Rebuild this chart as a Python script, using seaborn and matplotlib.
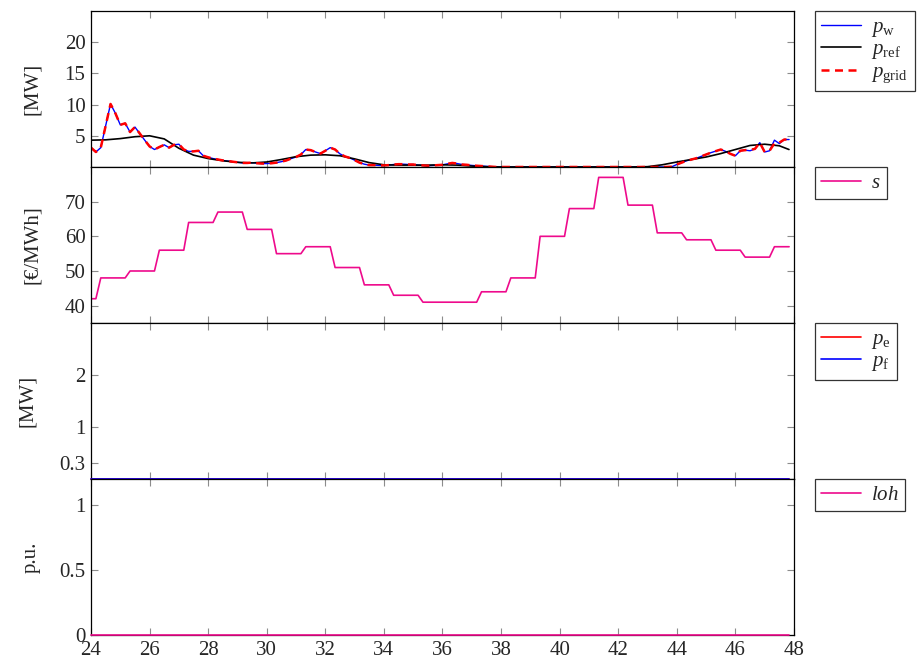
import numpy as np
import pandas as pd
import matplotlib
matplotlib.use('Agg')
import matplotlib.pyplot as plt
import seaborn as sns

# time grid: 10 minute samples from hour 24 to 47:50
t = 24 + np.arange(144) / 6

# wind power p_w [MW] on the 10 min grid
pw = [3.1, 2.4, 3.1, 6.6, 10.1, 8.6, 6.75, 7.0, 5.6, 6.4, 5.35, 4.3,
      3.3, 2.8, 3.2, 3.55, 3.1, 3.55, 3.65, 2.8, 2.5, 2.5, 2.6, 1.8,
      1.55, 1.35, 1.2, 1.05, 0.95, 0.85, 0.75, 0.65, 0.65, 0.7, 0.6, 0.55,
      0.55, 0.6, 0.7, 0.85, 1.05, 1.35, 1.6, 2.0, 2.8, 2.7, 2.4, 2.15,
      2.6, 3.1, 2.8, 2.1, 1.7, 1.45, 1.1, 0.7, 0.45, 0.3, 0.3, 0.25,
      0.25, 0.3, 0.4, 0.45, 0.45, 0.4, 0.4, 0.3, 0.25, 0.2, 0.25, 0.3,
      0.35, 0.5, 0.65, 0.55, 0.4, 0.35, 0.25, 0.2, 0.15, 0.1, 0.05] \
    + [0.0] * 36 \
    + [0.05, 0.4, 0.7, 1.0, 1.2, 1.4, 1.7, 2.0, 2.3, 2.55, 2.8, 2.5,
       2.1, 1.8, 2.6, 2.7, 2.6, 2.9, 3.9, 2.4, 2.6, 4.3, 3.75, 4.4, 4.4]

# grid power follows the wind power, small deviations at the end of the day
pgrid = list(pw)
pgrid[135] = 2.75
pgrid[140] = 3.8
pgrid[141] = 3.9

# reference power p_ref [MW], half hour knots
t_ref = [24.0, 24.5, 25.0, 25.5, 26.0, 26.5, 27.0, 27.5, 28.0, 28.5, 29.0, 29.5,
         30.0, 30.5, 31.0, 31.5, 32.0, 32.5, 33.0, 33.5, 34.0, 34.5, 35.0, 35.5,
         36.0, 36.5, 37.0, 37.5, 38.0, 42.5, 43.0, 43.5, 44.0, 44.5, 45.0, 45.5,
         46.0, 46.5, 47.0, 47.5, 47.83]
pref = [4.3, 4.35, 4.55, 4.85, 5.0, 4.5, 3.0, 1.9, 1.35, 1.0, 0.75, 0.65,
        0.8, 1.2, 1.65, 1.9, 1.95, 1.8, 1.3, 0.7, 0.35, 0.3, 0.3, 0.3,
        0.35, 0.3, 0.15, 0.05, 0.0, 0.0, 0.05, 0.35, 0.8, 1.2, 1.6, 2.15,
        2.8, 3.45, 3.65, 3.4, 2.8]

# hourly electricity price s [EUR/MWh], first value is the tail of hour 23
price_hourly = [42, 48, 50, 56, 64, 67, 62, 55, 57, 51, 46, 43, 41, 41,
                44, 48, 60, 68, 77, 69, 61, 59, 56, 54, 57]
s = np.repeat(price_hourly, 6)[4:148]

pe = [0.0] * 144
pf = [0.0] * 144
loh = [0.0] * 144

sns.set_theme(style='ticks')
plt.rcParams['font.family'] = 'serif'
plt.rcParams['font.serif'] = ['Liberation Serif', 'DejaVu Serif']
plt.rcParams['mathtext.fontset'] = 'custom'
plt.rcParams['mathtext.rm'] = 'Liberation Serif'
plt.rcParams['mathtext.it'] = 'Liberation Serif:italic'
plt.rcParams['axes.edgecolor'] = 'black'
plt.rcParams['axes.linewidth'] = 0.9

blue = '#0000ff'
red = '#ff0000'
pink = '#ee0a8c'
fs = 15

fig = plt.figure(figsize=(9.23, 6.62), dpi=100)
axes = fig.subplots(4, 1, sharex=True, gridspec_kw=dict(hspace=0))
fig.subplots_adjust(left=0.0986, right=0.8602, top=0.9834, bottom=0.0408)
ax1, ax2, ax3, ax4 = axes

sns.lineplot(x=t, y=pw, ax=ax1, color=blue, lw=1.0, label=r'$p_{\mathrm{w}}$', estimator=None)
sns.lineplot(x=t_ref, y=pref, ax=ax1, color='black', lw=1.2, label=r'$p_{\mathrm{ref}}$', estimator=None)
sns.lineplot(x=t, y=pgrid, ax=ax1, color=red, lw=1.8, dashes=False, label=r'$p_{\mathrm{grid}}$', estimator=None)
ax1.lines[-1].set_dashes([3.2, 2.2])
ax1.set_ylim(0, 25)
ax1.set_yticks([5, 10, 15, 20])
ax1.set_ylabel('[MW]', fontsize=fs)

sns.lineplot(x=t, y=s, ax=ax2, color=pink, lw=1.2, label=r'$s$', estimator=None)
ax2.set_ylim(35, 80)
ax2.set_yticks([40, 50, 60, 70])
ax2.set_ylabel('[€/MWh]', fontsize=fs)

sns.lineplot(x=t, y=pe, ax=ax3, color=red, lw=1.2, label=r'$p_{\mathrm{e}}$', estimator=None)
sns.lineplot(x=t, y=pf, ax=ax3, color=blue, lw=1.2, label=r'$p_{\mathrm{f}}$', estimator=None)
ax3.set_ylim(0, 3)
ax3.set_yticks([0.3, 1, 2])
ax3.set_yticklabels(['0.3', '1', '2'])
ax3.set_ylabel('[MW]', fontsize=fs)

sns.lineplot(x=t, y=loh, ax=ax4, color=pink, lw=1.2, label=r'$loh$', estimator=None)
ax4.set_ylim(0, 1.2)
ax4.set_yticks([0, 0.5, 1])
ax4.set_yticklabels(['0', '0.5', '1'])
ax4.set_ylabel('p.u.', fontsize=fs)

ax4.set_xlim(24, 48)
ax4.set_xticks(np.arange(24, 49, 2))

for ax in [ax3, ax4]:
    for ln in ax.lines:
        ln.set_clip_on(False)
        ln.set_zorder(5)

for ax in axes:
    ax.tick_params(direction='in', top=True, right=True, length=5, width=0.8,
                   color='0.55', labelsize=fs, pad=4)
    ax.set_xlabel('')
    for sp in ax.spines.values():
        sp.set_linewidth(0.9)
    leg = ax.legend(loc='upper left', bbox_to_anchor=(1.03, 1.0), borderaxespad=0,
                    fontsize=fs, frameon=True, fancybox=False, edgecolor='black',
                    handlelength=1.9, handletextpad=0.5, labelspacing=0.05,
                    borderpad=0.3)
    leg.get_frame().set_linewidth(0.9)

# y labels sit further left, as in the source figure
ax1.yaxis.set_label_coords(-0.070, 0.5)
ax2.yaxis.set_label_coords(-0.070, 0.5)
ax3.yaxis.set_label_coords(-0.077, 0.5)
ax4.yaxis.set_label_coords(-0.072, 0.5)

plt.savefig('out.png', dpi=100)
